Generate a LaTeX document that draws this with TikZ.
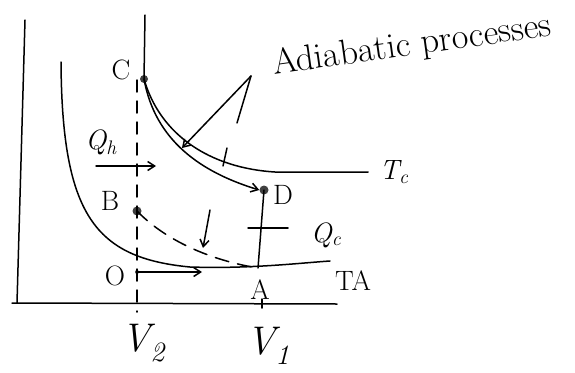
\documentclass[tikz,border=0pt]{standalone}
\usepackage{fontspec}
\usetikzlibrary{arrows.meta}
\begin{document}
\begin{tikzpicture}[x=1pt,y=-1pt,
    curve/.style={black,line width=1.5pt,line cap=round},
    lbl/.style={inner sep=0pt,font=\fontsize{28}{30}\selectfont},
    big/.style={inner sep=0pt,font=\fontsize{40}{42}\selectfont\itshape},
    blob/.style={circle,fill=black!75,inner sep=0pt,minimum size=#1},
    flow/.style={curve,-{Straight Barb[length=7pt,width=9pt]}}]
    \useasboundingbox (0,0) rectangle (575,372);
    % axes
    \coordinate (ytop) at (25,20);
    \coordinate (orig) at (17,303);
    \coordinate (xleft) at (12,303);
    \coordinate (xend) at (337,304);
    \draw [curve] (ytop) -- (orig);
    \draw [curve] (xleft) -- (xend);
    % cycle points
    \node [blob=8pt] (C) at (144,79) {};
    \node [blob=9pt] (B) at (137,211) {};
    \node [blob=9pt] (D) at (264,190) {};
    \node [blob=4pt] (O) at (137,272) {};
    \coordinate (A) at (258,268);
    \coordinate (Oend) at (202,272);
    % isotherms
    \coordinate (Atop) at (61,62);
    \coordinate (Aend) at (330,261);
    \draw [curve] (Atop) .. controls (62,215) and (95,258) .. (190,267)
        .. controls (250,269) and (300,263) .. (Aend);
    \coordinate (Ctop) at (145,15);
    \coordinate (Cend) at (368,172);
    \draw [curve] (Ctop) -- (C.center) .. controls (160,135) and (210,168) .. (275,172) -- (Cend);
    % adiabats
    \draw [flow] (C.center) .. controls (155,140) and (200,172) .. (D.west);
    \draw [curve,dash pattern=on 14pt off 9pt] (B.center) .. controls (170,245) and (220,262) .. (A);
    % V2 line and A tick
    \coordinate (V2top) at (137,80);
    \coordinate (V2bot) at (137,312);
    \draw [curve,dash pattern=on 12pt off 9pt] (V2top) -- (V2bot);
    \coordinate (V1t) at (262,299);
    \coordinate (V1b) at (262,308);
    \draw [curve] (V1t) -- (V1b);
    % heat flows
    \draw [curve] (D.center) -- (A);
    \coordinate (Qcl) at (248,228);
    \coordinate (Qcr) at (288,228);
    \draw [curve] (Qcl) -- (Qcr);
    \draw [flow] (O.center) -- (Oend);
    \coordinate (Qhl) at (96,166);
    \coordinate (Qhr) at (156,166);
    \draw [flow] (Qhl) -- (Qhr);
    % pointers from the note
    \coordinate (apex) at (251,76);
    \coordinate (tipCD) at (182,148);
    \coordinate (p1) at (237,123);
    \coordinate (p2) at (227,148);
    \coordinate (p3) at (223,166);
    \coordinate (p4) at (210,210);
    \coordinate (p5) at (203,248);
    \draw [flow] (apex) -- (tipCD);
    \draw [curve] (apex) -- (p1);
    \draw [curve] (p2) -- (p3);
    \draw [flow] (p4) -- (p5);
    % labels
    \node [lbl] (labC) at (121,70) {C};
    \node [lbl] (labB) at (110,201) {B};
    \node [lbl] (labD) at (283,195) {D};
    \node [lbl] (labO) at (115,276) {O};
    \node [lbl] (labA) at (260,290) {A};
    \node [lbl] (labQh) at (101,142) {\itshape Q\textsubscript{h}};
    \node [lbl] (labQc) at (326,235) {\itshape Q\textsubscript{c}};
    \node [lbl] (labTA) at (353,281) {TA};
    \node [lbl] (labTc) at (394,172) {\itshape T\textsubscript{c}};
    \node [big] (labV2) at (143,343) {V\textsubscript{2}};
    \node [big] (labV1) at (268,346) {V\textsubscript{1}};
    \node [lbl,font=\fontsize{36}{40}\selectfont,rotate=8] (note) at (412,46) {Adiabatic processes};
\end{tikzpicture}
\end{document}
